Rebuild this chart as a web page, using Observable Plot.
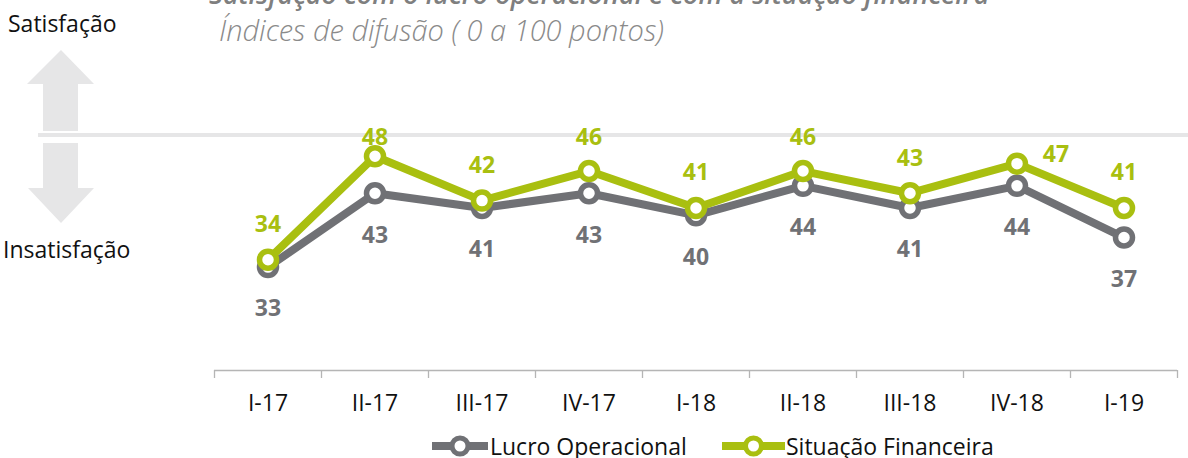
<!DOCTYPE html>
<html><head><meta charset="utf-8">
<script src="https://cdn.jsdelivr.net/npm/d3@7"></script>
<script src="https://cdn.jsdelivr.net/npm/@observablehq/plot@0.6"></script>
<style>
body{margin:0;background:#fff;font-family:"Open Sans",sans-serif;}
#wrap{position:relative;width:1188px;height:458px;overflow:hidden;}
#wrap > svg{position:absolute;left:0;top:0;}
</style></head><body><div id="wrap"></div>
<script>
// ---- data ----
const quarters = ["I-17","II-17","III-17","IV-17","I-18","II-18","III-18","IV-18","I-19"];
const lucroOperacional = [33,43,41,43,40,44,41,44,37];
const situacaoFinanceira = [34,48,42,46,41,46,43,47,41];
const seriesNames = ["Lucro Operacional","Situação Financeira"];
const titleText = "Satisfação com o lucro operacional e com a situação financeira";
const subtitleText = "Índices de difusão ( 0 a 100 pontos)";
const upLabel = "Satisfação";
const downLabel = "Insatisfação";

// ---- layout / style ----
const W = 1188, H = 458, mL = 214, mR = 11, mT = 141, mB = 88;
const yDomain = [19, 50];
const gray = "#707175", green = "#a9bf10", deco = "#e6e6e7";
const rightLabelQuarters = new Set(["IV-18"]);
const greenLabelTop = 137;

const rows = quarters.map((q, i) => ({q, x: i + 0.5, lucro: lucroOperacional[i], fin: situacaoFinanceira[i]}));
const yScale = Plot.scale({y: {domain: yDomain, range: [H - mB, mT]}});
const greenAbove = rows.filter(d => !rightLabelQuarters.has(d.q))
  .map(d => ({...d, ly: yScale.invert(Math.max(yScale.apply(d.fin) - 35, greenLabelTop))}));
const greenRight = rows.filter(d => rightLabelQuarters.has(d.q));

const wrap = document.getElementById("wrap");

// decoration layer (arrows, separator, texts, legend)
const dsvg = d3.select(wrap).append("svg").attr("width", W).attr("height", H)
  .style("font-family", "'Open Sans', sans-serif");
dsvg.append("polygon").attr("points", "61,50 94,84 78,84 78,131 43,131 43,84 27,84").attr("fill", deco);
dsvg.append("polygon").attr("points", "43,143 78,143 78,188 94,188 61,223 28,188 43,188").attr("fill", deco);
dsvg.append("line").attr("x1", 38).attr("x2", W).attr("y1", 135).attr("y2", 135)
  .attr("stroke", deco).attr("stroke-width", 4);
dsvg.append("text").attr("x", 8).attr("y", 32).attr("font-size", 23).attr("fill", "#111").text(upLabel);
dsvg.append("text").attr("x", 3).attr("y", 258).attr("font-size", 23).attr("fill", "#111").text(downLabel);
dsvg.append("text").attr("x", 209).attr("y", 4).attr("font-size", 27).attr("font-style", "italic")
  .attr("font-weight", 600).attr("fill", "#7f7f7f").text(titleText);
dsvg.append("text").attr("x", 219).attr("y", 41).attr("font-size", 29).attr("font-style", "italic")
  .attr("font-weight", 300).attr("fill", "#8a8a8a").text(subtitleText);

// legend
const legendItems = [
  {name: seriesNames[0], color: gray, x0: 432, x1: 488, tx: 490},
  {name: seriesNames[1], color: green, x0: 722, x1: 785, tx: 786}
];
for (const it of legendItems) {
  dsvg.append("line").attr("x1", it.x0).attr("x2", it.x1).attr("y1", 446).attr("y2", 446)
    .attr("stroke", it.color).attr("stroke-width", 8);
  dsvg.append("circle").attr("cx", (it.x0 + it.x1) / 2).attr("cy", 446).attr("r", 8)
    .attr("fill", "white").attr("stroke", it.color).attr("stroke-width", 5);
  dsvg.append("text").attr("x", it.tx).attr("y", 455).attr("font-size", 23).attr("fill", "#111").text(it.name);
}

// chart
const chart = Plot.plot({
  width: W, height: H,
  marginLeft: mL, marginRight: mR, marginTop: mT, marginBottom: mB,
  style: {fontFamily: "'Open Sans', sans-serif", fontSize: "23px", background: "transparent", overflow: "visible"},
  x: {domain: [0, quarters.length], axis: null},
  y: {domain: yDomain, axis: null},
  marks: [
    Plot.ruleY([yDomain[0]], {stroke: "#b5b5b5", strokeWidth: 1.3}),
    Plot.axisX({ticks: d3.range(quarters.length + 1), tickSize: 8, tickFormat: () => "", label: null, stroke: "#b5b5b5", strokeWidth: 1.3}),
    Plot.axisX({ticks: rows.map(d => d.x), tickSize: 0, tickPadding: 24, label: null, fill: "#111", fontSize: 23,
      tickFormat: v => quarters[Math.floor(v)]}),
    Plot.line(rows, {x: "x", y: "lucro", stroke: gray, strokeWidth: 8, strokeLinejoin: "round"}),
    Plot.dot(rows, {x: "x", y: "lucro", r: 8.5, fill: "white", stroke: gray, strokeWidth: 5.5}),
    Plot.text(rows, {x: "x", y: "lucro", text: d => String(d.lucro), dy: 42, fill: gray, fontWeight: "bold", fontSize: 23}),
    Plot.line(rows, {x: "x", y: "fin", stroke: green, strokeWidth: 8, strokeLinejoin: "round"}),
    Plot.dot(rows, {x: "x", y: "fin", r: 8.5, fill: "white", stroke: green, strokeWidth: 5.5}),
    Plot.text(greenAbove, {x: "x", y: "ly", text: d => String(d.fin), fill: green, fontWeight: "bold", fontSize: 23}),
    Plot.text(greenRight, {x: "x", y: "fin", text: d => String(d.fin), dx: 39, dy: -9, fill: green, fontWeight: "bold", fontSize: 23})
  ]
});
wrap.appendChild(chart);
</script></body></html>
